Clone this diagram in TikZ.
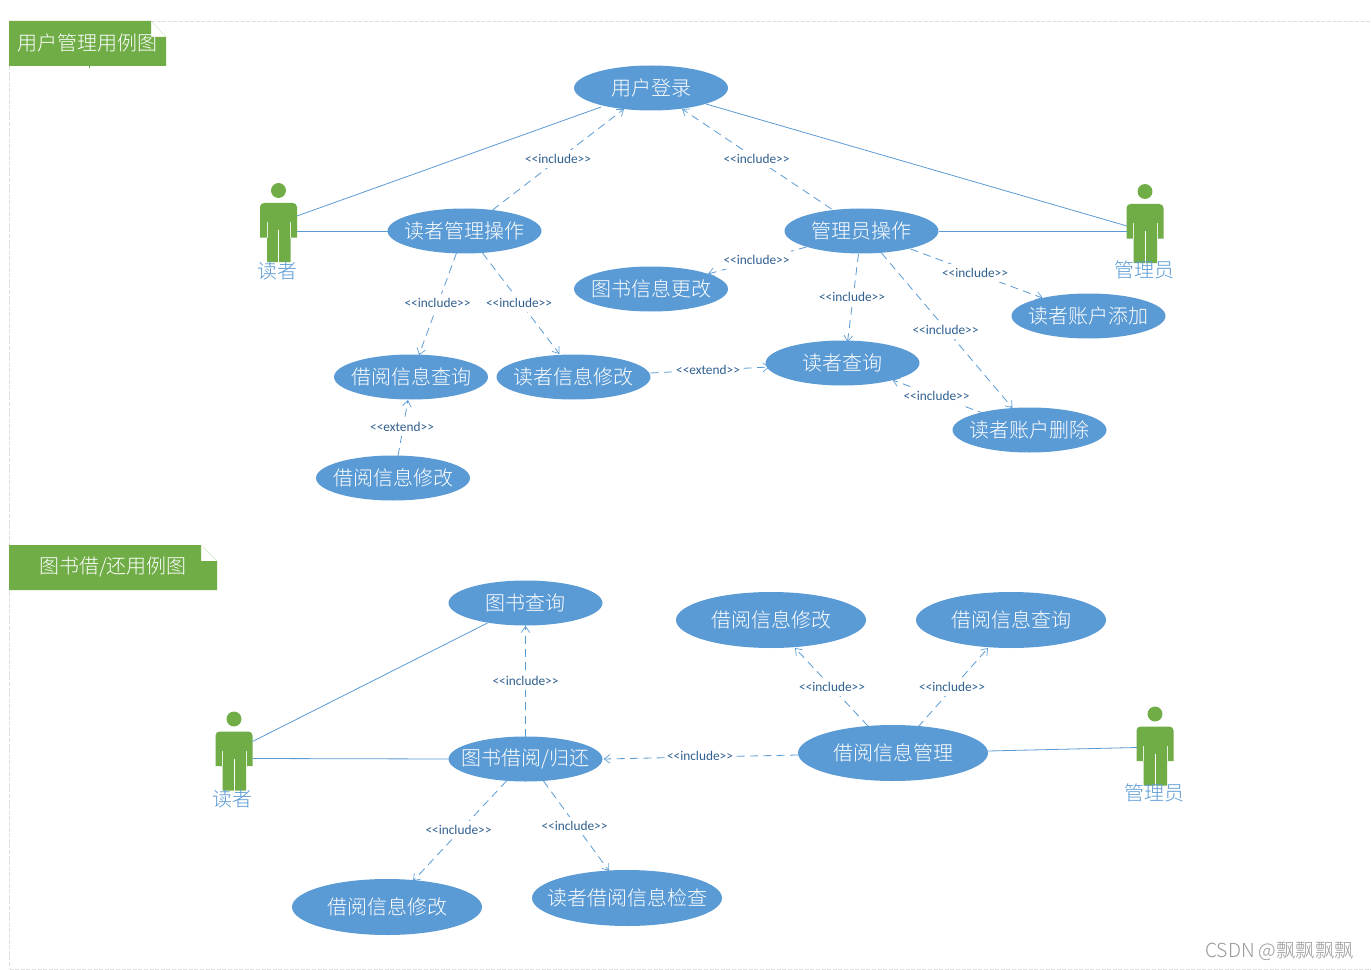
\documentclass[tikz,border=0pt]{standalone}
\usepackage{fontspec}
\setmainfont{Carlito}
\IfFontExistsTF{Noto Sans CJK SC Light}{\newfontfamily\cjk{Noto Sans CJK SC Light}}{\newfontfamily\cjk{Noto Sans CJK SC}}
\usetikzlibrary{shapes.geometric,arrows.meta}
\definecolor{ublue}{HTML}{5B9BD5}
\definecolor{ugreen}{HTML}{70AD47}
\definecolor{lbl}{HTML}{2F5F8F}
\tikzset{
  x=0.75pt,y=-0.75pt,
  uc/.style={ellipse,fill=ublue,inner xsep=-20pt,inner ysep=0pt,minimum width=115.5pt,minimum height=33.75pt,text=white,font=\cjk\fontsize{15}{18}\selectfont},
  ucb/.style={uc,minimum width=142.5pt,minimum height=42pt},
  solidline/.style={draw=ublue,line width=0.6pt},
  dep/.style={draw=ublue,line width=0.6pt,dash pattern=on 6pt off 4pt,-{Straight Barb[length=4.5pt,width=6.5pt,line width=0.5pt]}},
  tag/.style={fill=white,inner xsep=1pt,inner ysep=3pt,text=lbl,font=\fontsize{10}{12}\selectfont},
  actorbox/.style={inner sep=0pt,minimum width=28pt,minimum height=59pt},
  actorlabel/.style={inner sep=0pt,text=ublue,font=\cjk\fontsize{15}{17}\selectfont},
  bannertext/.style={inner sep=0pt,text=white,font=\cjk\fontsize{15}{18}\selectfont},
  frameline/.style={draw=black!13,line width=0.6pt,dash pattern=on 3pt off 1.2pt},
  wmtext/.style={inner sep=0pt,text=black!40,font=\cjk\fontsize{14.5}{17}\selectfont}
}
\newcommand{\actorfig}[3]{%
  \node[actorbox] (#1) at (#2,#3) {};
  \begin{scope}[shift={(#2,#3)}]
    \fill[ugreen] (0,-32.5) circle[radius=5.6pt];
    \fill[ugreen] (-18.5,-16) arc[start angle=180,end angle=90,radius=3pt] -- (14.5,-20) arc[start angle=90,end angle=0,radius=3pt]
      -- (18.5,14.5) -- (12,14.5) -- (12,39) -- (-11.5,39) -- (-11.5,14.5) -- (-18.5,14.5) -- cycle;
    \draw[white,line width=0.7pt] (0.3,7) -- (0.3,39.5);
    \draw[white!80!ugreen,line width=0.6pt] (-11.5,-1) -- (-11.5,14.5) (12,-1) -- (12,14.5);
  \end{scope}}
\newcommand{\nodept}[2]{([shift={#2}]#1.center)}
\begin{document}
\begin{tikzpicture}
\useasboundingbox (0,0) rectangle (1371,970);
\fill[white] (0,0) rectangle (1371,970);
% frame
\draw[frameline] (151,21.5) -- (1371,21.5);
\draw[frameline] (9.5,66) -- (9.5,969);
\draw[frameline] (9.5,969) -- (1371,969);
% banners
\fill[ugreen] (9,21) -- (151,21) -- (151,37) -- (166,37) -- (166,66) -- (9,66) -- cycle;
\fill[ugreen] (89,66) rectangle (89.8,68);
\draw[ugreen!30,line width=0.4pt] (151,21) -- (166,37);
\node[bannertext] (title1) at (87.5,43) {用户管理用例图};
\fill[ugreen] (9,545) -- (201,545) -- (201,561) -- (217,561) -- (217,590) -- (9,590) -- cycle;
\draw[ugreen!30,line width=0.4pt] (201,545) -- (217,561);
\node[bannertext] (title2) at (113,567) {图书借/还用例图};
% use cases, upper part
\node[uc] (login) at (651,88) {用户登录};
\node[uc] (rop) at (464.5,231) {读者管理操作};
\node[uc] (aop) at (861.5,231) {管理员操作};
\node[uc] (bookupd) at (651,289) {图书信息更改};
\node[uc] (acctadd) at (1088.5,316) {读者账户添加};
\node[uc] (bq) at (411,377) {借阅信息查询};
\node[uc] (rmod) at (573.5,377) {读者信息修改};
\node[uc] (rq) at (842.5,363) {读者查询};
\node[uc] (acctdel) at (1029.5,430) {读者账户删除};
\node[uc] (bmod) at (393,478) {借阅信息修改};
% use cases, lower part
\node[uc] (bookq) at (525.5,603) {图书查询};
\node[ucb] (bmg) at (771,620) {借阅信息修改};
\node[ucb] (bqb) at (1011,620) {借阅信息查询};
\node[uc] (ret) at (525.5,759) {图书借阅/归还};
\node[ucb] (mgmt) at (893,753) {借阅信息管理};
\node[ucb] (bmodb) at (387,907) {借阅信息修改};
\node[ucb] (chk) at (627,898) {读者借阅信息检查};
% actors
\actorfig{reader}{278.5}{223}
\actorfig{admin}{1145}{224}
\actorfig{readerb}{234}{751.5}
\actorfig{adminb}{1155}{746.5}
\node[actorlabel] (l1) at (277,271) {读者};
\node[actorlabel] (l2) at (1144.5,270) {管理员};
\node[actorlabel] (l3) at (232.5,799) {读者};
\node[actorlabel] (l4) at (1154.5,793) {管理员};
% solid associations
\draw[solidline] \nodept{reader}{(18.5,-7)} -- \nodept{login}{(-50,19)};
\draw[solidline] \nodept{reader}{(18.5,8)} -- \nodept{rop}{(-76.5,0)};
\draw[solidline] \nodept{admin}{(-18,2)} -- \nodept{login}{(55,16)};
\draw[solidline] \nodept{admin}{(-18,7)} -- \nodept{aop}{(77,0)};
\draw[solidline] \nodept{readerb}{(18.5,-10)} -- \nodept{bookq}{(-38,20)};
\draw[solidline] \nodept{readerb}{(18.5,7)} -- \nodept{ret}{(-76,0)};
\draw[solidline] \nodept{adminb}{(-18,1)} -- \nodept{mgmt}{(95,-2)};
% dependencies, upper part
\draw[dep] \nodept{rop}{(28,-21)} -- \nodept{login}{(-27,21)};
\draw[dep] \nodept{aop}{(-30,-22)} -- \nodept{login}{(31,21)};
\draw[dep] \nodept{aop}{(-55,16)} -- \nodept{bookupd}{(57,-15)};
\draw[dep] \nodept{aop}{(49,18)} -- \nodept{acctadd}{(-46,-18)};
\draw[dep] \nodept{aop}{(-3,23)} -- \nodept{rq}{(5,-21)};
\draw[dep] \nodept{aop}{(20,22)} -- \nodept{acctdel}{(-17,-22)};
\draw[dep] \nodept{rop}{(-8,22)} -- \nodept{bq}{(8,-22)};
\draw[dep] \nodept{rop}{(18,22)} -- \nodept{rmod}{(-14,-23)};
\draw[dep] \nodept{rmod}{(77,-4)} -- \nodept{rq}{(-73,4)};
\draw[dep] \nodept{acctdel}{(-44,-16)} -- \nodept{rq}{(50,17)};
\draw[dep] \nodept{bmod}{(5,-22)} -- \nodept{bq}{(-3,23)};
% dependencies, lower part
\draw[dep] \nodept{ret}{(0,-22)} -- \nodept{bookq}{(0,23)};
\draw[dep] \nodept{mgmt}{(-95,2)} -- \nodept{ret}{(78,0)};
\draw[dep] \nodept{mgmt}{(-25,-27)} -- \nodept{bmg}{(24,28)};
\draw[dep] \nodept{mgmt}{(25,-26)} -- \nodept{bqb}{(-23,28)};
\draw[dep] \nodept{ret}{(-19,22)} -- \nodept{bmodb}{(26,-26)};
\draw[dep] \nodept{ret}{(18,22)} -- \nodept{chk}{(-18,-27)};
% labels
\node[tag] (t1) at (558,159) {<{}<include>{}>};
\node[tag] (t2) at (756.5,159) {<{}<include>{}>};
\node[tag] (t3) at (756.5,260) {<{}<include>{}>};
\node[tag] (t4) at (975,273) {<{}<include>{}>};
\node[tag] (t5) at (852,297) {<{}<include>{}>};
\node[tag] (t6) at (945.5,330) {<{}<include>{}>};
\node[tag] (t7) at (437.5,303) {<{}<include>{}>};
\node[tag] (t8) at (519,303) {<{}<include>{}>};
\node[tag] (t9) at (708,370) {<{}<extend>{}>};
\node[tag] (t10) at (936.5,396) {<{}<include>{}>};
\node[tag] (t11) at (402,427) {<{}<extend>{}>};
\node[tag] (t12) at (525.5,681) {<{}<include>{}>};
\node[tag] (t13) at (700,756) {<{}<include>{}>};
\node[tag] (t14) at (832,687) {<{}<include>{}>};
\node[tag] (t15) at (952,687) {<{}<include>{}>};
\node[tag] (t16) at (458.5,830) {<{}<include>{}>};
\node[tag] (t17) at (574.5,826) {<{}<include>{}>};
\node[wmtext] (wm) at (1279.5,952) {CSDN @飘飘飘飘};
\end{tikzpicture}
\end{document}
